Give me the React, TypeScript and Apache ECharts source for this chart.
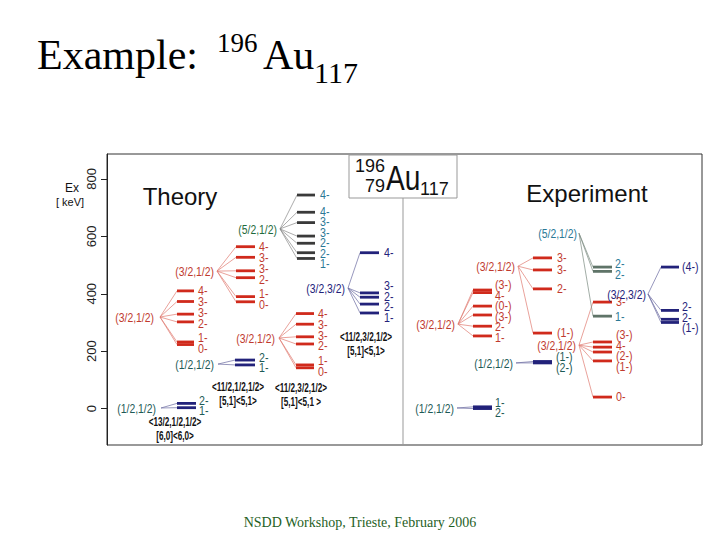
import React, { useEffect, useRef } from "react";
import * as echarts from "echarts";

// ---------- data (keV, spin labels) ----------
const yTicks = [0, 200, 400, 600, 800];

// Theory
const thA_name = "(1/2,1/2)"; const thA_spins = ["2-", "1-"]; const thA_keV = [18, 3];
const thB_name = "(3/2,1/2)"; const thB_spins = ["4-", "3-", "3-", "2-", "1-", "0-"]; const thB_keV = [410, 373, 329, 302, 232, 223];
const thC_name = "(3/2,1/2)"; const thC_spins = ["4-", "3-", "3-", "2-", "1-", "0-"]; const thC_keV = [564, 527, 480, 456, 390, 372];
const thD_name = "(5/2,1/2)"; const thD_spins = ["4-", "4-", "3-", "3-", "2-", "2-", "1-"]; const thD_keV = [744, 684, 648, 601, 576, 543, 523];
const thE_name = "(3/2,3/2)"; const thE_spins = ["4-", "3-", "2-", "2-", "1-"]; const thE_keV = [543, 403, 388, 364, 333];
const thF_name = "(3/2,1/2)"; const thF_spins = ["4-", "3-", "3-", "2-", "1-", "0-"]; const thF_keV = [331, 294, 250, 225, 152, 142];
const thG_name = "(1/2,1/2)"; const thG_spins = ["2-", "1-"]; const thG_keV = [169, 152];

const cfgA = ["<13/2,1/2,1/2>", "[6,0]<6,0>"];
const cfgE = ["<11/2,3/2,1/2>", "[5,1]<5,1>"];
const cfgF = ["<11/2,3/2,1/2>", "[5,1]<5,1 >"];
const cfgG = ["<11/2,1/2,1/2>", "[5,1]<5,1>"];

// Experiment
const exA_name = "(1/2,1/2)"; const exA_spins = ["1-", "2-"]; const exA_keV = [6, 0];
const exB_name = "(1/2,1/2)"; const exB_spins = ["(1-)", "(2-)"]; const exB_keV = [164, 159];
const exC_name = "(3/2,1/2)"; const exC_spins = ["(3-)", "4-", "(0-)", "(3-)", "2-", "1-"]; const exC_keV = [413, 404, 357, 326, 287, 253];
const exD_name = "(3/2,1/2)"; const exD_spins = ["3-", "3-", "2-", "(1-)"]; const exD_keV = [525, 483, 417, 263];
const exE_name = "(3/2,1/2)"; const exE_spins = ["3-", "(3-)", "4-", "(2-)", "(1-)", "0-"]; const exE_keV = [371, 232, 214, 197, 166, 40];
const exF_name = "(5/2,1/2)"; const exF_spins = ["2-", "2-", "1-"]; const exF_keV = [493, 478, 322];
const exG_name = "(3/2,3/2)"; const exG_spins = ["(4-)", "2-", "2-", "(1-)"]; const exG_keV = [493, 342, 311, 300];

// ---------- styles ----------
const RED = "#d02a1c";
const RED_T = "#c03a2e";
const RED_FAN = "#e07a70";
const NAVY = "#22227a";
const NAVY_FAN = "#6a6aa0";
const TEAL = "#1d5a56";
const BLUE_T = "#2a7896";
const DGREEN = "#1f6a3c";
const DGRAY = "#3a3a3a";
const GRAYG = "#5f7468";
const SANS = '"Liberation Sans", Arial, Helvetica, sans-serif';
const SERIF = '"Liberation Serif", "Times New Roman", serif';

type Band = {
  name: string; spins: string[]; keV: number[];
  nameColor: string; line: string; fan: string; spinColor: string;
  nameRight: number; nameE: number; ox: number; x1: number; x2: number; sx: number;
  cfg?: string[]; cfgX?: number; cfgE?: number[];
};

const bands: Band[] = [
  { name: thA_name, spins: thA_spins, keV: thA_keV, nameColor: TEAL, line: NAVY, fan: NAVY_FAN, spinColor: TEAL, nameRight: 156, nameE: 2, ox: 161, x1: 177, x2: 196, sx: 199, cfg: cfgA, cfgX: 175, cfgE: [-47, -96] },
  { name: thB_name, spins: thB_spins, keV: thB_keV, nameColor: RED_T, line: RED, fan: RED_FAN, spinColor: RED_T, nameRight: 154, nameE: 319, ox: 160, x1: 177, x2: 194, sx: 198 },
  { name: thC_name, spins: thC_spins, keV: thC_keV, nameColor: RED_T, line: RED, fan: RED_FAN, spinColor: RED_T, nameRight: 214, nameE: 479, ox: 217, x1: 236, x2: 255, sx: 259 },
  { name: thD_name, spins: thD_spins, keV: thD_keV, nameColor: DGREEN, line: DGRAY, fan: "#888", spinColor: BLUE_T, nameRight: 277, nameE: 626, ox: 280, x1: 297, x2: 315, sx: 320 },
  { name: thE_name, spins: thE_spins, keV: thE_keV, nameColor: NAVY, line: NAVY, fan: NAVY_FAN, spinColor: NAVY, nameRight: 345, nameE: 420, ox: 348, x1: 360, x2: 379, sx: 384, cfg: cfgE, cfgX: 366, cfgE: [249, 200] },
  { name: thF_name, spins: thF_spins, keV: thF_keV, nameColor: RED_T, line: RED, fan: RED_FAN, spinColor: RED_T, nameRight: 275, nameE: 246, ox: 279, x1: 296, x2: 314, sx: 318, cfg: cfgF, cfgX: 301, cfgE: [72, 23] },
  { name: thG_name, spins: thG_spins, keV: thG_keV, nameColor: TEAL, line: NAVY, fan: NAVY_FAN, spinColor: TEAL, nameRight: 214, nameE: 155, ox: 218, x1: 235, x2: 255, sx: 259, cfg: cfgG, cfgX: 238, cfgE: [75, 26] },
  { name: exA_name, spins: exA_spins, keV: exA_keV, nameColor: TEAL, line: NAVY, fan: NAVY_FAN, spinColor: TEAL, nameRight: 454, nameE: 2, ox: 457, x1: 473, x2: 492, sx: 495 },
  { name: exB_name, spins: exB_spins, keV: exB_keV, nameColor: TEAL, line: NAVY, fan: NAVY_FAN, spinColor: TEAL, nameRight: 513, nameE: 159, ox: 516, x1: 533, x2: 552, sx: 556 },
  { name: exC_name, spins: exC_spins, keV: exC_keV, nameColor: RED_T, line: RED, fan: RED_FAN, spinColor: RED_T, nameRight: 455, nameE: 294, ox: 458, x1: 473, x2: 492, sx: 495 },
  { name: exD_name, spins: exD_spins, keV: exD_keV, nameColor: RED_T, line: RED, fan: RED_FAN, spinColor: RED_T, nameRight: 515, nameE: 496, ox: 518, x1: 533, x2: 552, sx: 557 },
  { name: exE_name, spins: exE_spins, keV: exE_keV, nameColor: RED_T, line: RED, fan: RED_FAN, spinColor: RED_T, nameRight: 576, nameE: 221, ox: 579, x1: 593, x2: 612, sx: 616 },
  { name: exF_name, spins: exF_spins, keV: exF_keV, nameColor: BLUE_T, line: GRAYG, fan: "#7a8a80", spinColor: BLUE_T, nameRight: 577, nameE: 611, ox: 579, x1: 593, x2: 612, sx: 615 },
  { name: exG_name, spins: exG_spins, keV: exG_keV, nameColor: NAVY, line: NAVY, fan: NAVY_FAN, spinColor: NAVY, nameRight: 646, nameE: 399, ox: 648, x1: 661, x2: 679, sx: 682 },
];

function spread(ys: number[], gap: number): number[] {
  const idx = ys.map((_, i) => i).sort((a, b) => ys[a] - ys[b]);
  const out = ys.slice();
  for (let it = 0; it < 60; it++) {
    let moved = false;
    for (let k = 1; k < idx.length; k++) {
      const a = idx[k - 1], b = idx[k];
      const d = out[b] - out[a];
      if (d < gap - 0.01) { const s = (gap - d) / 2; out[a] -= s; out[b] += s; moved = true; }
    }
    if (!moved) break;
  }
  return out;
}

function narrowText(text: string, x: number, y: number, fill: string, font: string, align: string, sx: number) {
  return { type: "text", x, y, scaleX: sx, style: { text, x: 0, y: 0, fill, font, textAlign: align, textVerticalAlign: "middle" } };
}

export default function App() {
  const ref = useRef<HTMLDivElement>(null);
  useEffect(() => {
    if (!ref.current) return;
    const chart = echarts.init(ref.current, undefined, { renderer: "svg" });

    const renderItem = (params: any, api: any) => {
      const b = bands[api.value(2)];
      const children: any[] = [];
      const o = api.coord([b.ox, b.nameE]);
      const np = api.coord([b.nameRight, b.nameE]);
      children.push(narrowText(b.name, np[0], np[1], b.nameColor, `13px ${SANS}`, "right", 0.8));
      const ys: number[] = [];
      b.keV.forEach((e) => {
        const p1 = api.coord([b.x1, e]);
        const p2 = api.coord([b.x2, e]);
        ys.push(p1[1]);
        children.push({ type: "line", shape: { x1: o[0], y1: o[1], x2: p1[0], y2: p1[1] }, style: { stroke: b.fan, lineWidth: 0.7 } });
        children.push({ type: "line", shape: { x1: p1[0], y1: p1[1], x2: p2[0], y2: p2[1] }, style: { stroke: b.line, lineWidth: 2.8 } });
      });
      const ly = spread(ys, 10.5);
      b.spins.forEach((s, i) => {
        const sp = api.coord([b.sx, b.keV[i]]);
        children.push(narrowText(s, sp[0], ly[i], b.spinColor, `13px ${SANS}`, "left", 0.82));
      });
      if (b.cfg && b.cfgE) {
        b.cfg.forEach((t, i) => {
          const cp = api.coord([b.cfgX, b.cfgE![i]]);
          children.push(narrowText(t, cp[0], cp[1], "#111", `bold 12px ${SANS}`, "center", 0.68));
        });
      }
      return { type: "group", children };
    };

    chart.setOption({
      animation: false,
      backgroundColor: "#fff",
      grid: { left: 107, top: 154, width: 595, height: 291, show: true, borderColor: "#333", borderWidth: 1, backgroundColor: "transparent" },
      xAxis: { type: "value", min: 107, max: 702, show: false },
      yAxis: {
        type: "value", min: -127, max: 887,
        axisLine: { show: true, lineStyle: { color: "#222", width: 1 } },
        axisTick: { show: true, length: 6, customValues: yTicks, lineStyle: { color: "#222" } },
        axisLabel: { show: true, rotate: 90, margin: 9, customValues: yTicks, color: "#222", fontSize: 13, fontFamily: SANS },
        splitLine: { show: false },
      },
      series: [
        { type: "custom", renderItem, clip: false, data: bands.map((b, i) => [b.ox, b.nameE, i]), encode: { x: 0, y: 1 }, silent: true },
      ],
      graphic: [
        { type: "line", shape: { x1: 403, y1: 198, x2: 403, y2: 445 }, style: { stroke: "#999", lineWidth: 1 } },
        { type: "line", shape: { x1: 107, y1: 445, x2: 702, y2: 445 }, style: { stroke: "#999", lineWidth: 1.2 } },
        { type: "rect", shape: { x: 349, y: 155, width: 108, height: 43 }, style: { fill: "#fff", stroke: "#999", lineWidth: 1 } },
        { type: "text", style: { text: "196", x: 385, y: 166, fill: "#111", font: `18px ${SANS}`, textAlign: "right", textVerticalAlign: "middle" } },
        { type: "text", style: { text: "79", x: 385, y: 186, fill: "#111", font: `18px ${SANS}`, textAlign: "right", textVerticalAlign: "middle" } },
        { type: "text", x: 386, y: 178, scaleX: 0.78, style: { text: "Au", x: 0, y: 0, fill: "#111", font: `36px ${SANS}`, textAlign: "left", textVerticalAlign: "middle" } },
        { type: "text", style: { text: "117", x: 420, y: 189, fill: "#111", font: `18px ${SANS}`, textAlign: "left", textVerticalAlign: "middle" } },
        { type: "text", style: { text: "Theory", x: 180, y: 196, fill: "#111", font: `24px ${SANS}`, textAlign: "center", textVerticalAlign: "middle" } },
        { type: "text", style: { text: "Experiment", x: 587, y: 193, fill: "#111", font: `24px ${SANS}`, textAlign: "center", textVerticalAlign: "middle" } },
        { type: "text", style: { text: "Ex", x: 72, y: 188, fill: "#111", font: `12px ${SANS}`, textAlign: "center", textVerticalAlign: "middle" } },
        { type: "text", style: { text: "[ keV]", x: 70, y: 202, fill: "#111", font: `11px ${SANS}`, textAlign: "center", textVerticalAlign: "middle" } },
        { type: "text", style: { text: "Example:", x: 37, y: 76, fill: "#000", font: `42px ${SERIF}`, textAlign: "left", textVerticalAlign: "bottom" } },
        { type: "text", style: { text: "196", x: 217, y: 56, fill: "#000", font: `27px ${SERIF}`, textAlign: "left", textVerticalAlign: "bottom" } },
        { type: "text", style: { text: "Au", x: 263, y: 76, fill: "#000", font: `42px ${SERIF}`, textAlign: "left", textVerticalAlign: "bottom" } },
        { type: "text", style: { text: "117", x: 314, y: 87, fill: "#000", font: `30px ${SERIF}`, textAlign: "left", textVerticalAlign: "bottom" } },
        { type: "text", style: { text: "NSDD Workshop, Trieste, February 2006", x: 360, y: 522, fill: "#1f5f1f", font: `14px ${SERIF}`, textAlign: "center", textVerticalAlign: "middle" } },
      ],
    });
    return () => chart.dispose();
  }, []);
  return <div ref={ref} style={{ position: "absolute", left: 0, top: 0, width: 720, height: 540 }} />;
}
